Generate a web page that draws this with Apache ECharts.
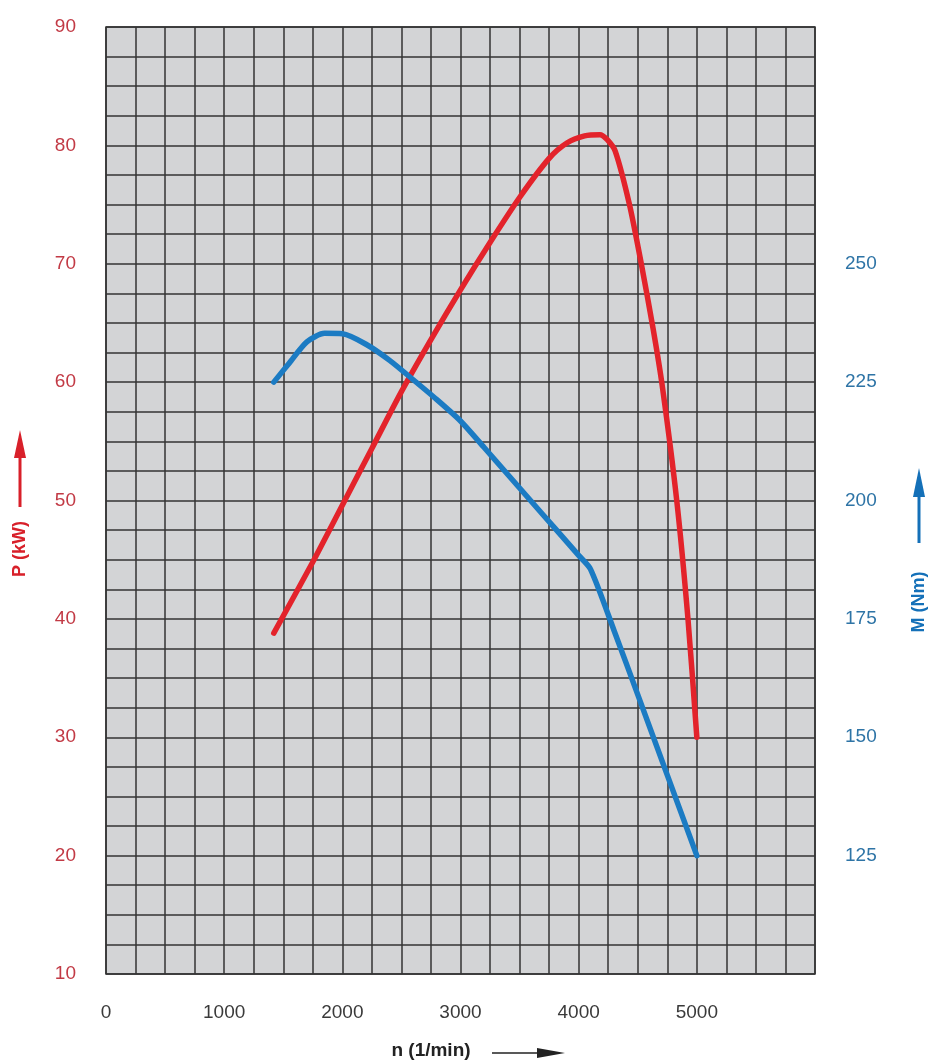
<!DOCTYPE html>
<html>
<head>
<meta charset="utf-8">
<script src="https://cdn.jsdelivr.net/npm/echarts@6/dist/echarts.min.js"></script>
<style>html,body{margin:0;padding:0;background:#fff;}#c{width:936px;height:1064px;}</style>
</head>
<body>
<div id="c"></div>
<script>
// Engine speed n (1/min) and power P (kW)
const powerN = [1420, 1750, 2000, 2250, 2500, 2750, 3000, 3250, 3500, 3750, 3900, 4050, 4180, 4240, 4310, 4430, 4530, 4630, 4710, 4830, 4925, 5000];
const powerP = [38.8, 44.8, 49.6, 54.4, 59.2, 63.6, 67.8, 71.8, 75.6, 78.9, 80.2, 80.8, 80.9, 80.5, 79.5, 75.0, 70.0, 64.5, 59.5, 50.0, 40.0, 30.0];
// Engine speed n (1/min) and torque M (Nm)
const torqueN = [1420, 1550, 1700, 1850, 2000, 2200, 2400, 2600, 2800, 3000, 3200, 3400, 3600, 3800, 4000, 4100, 4300, 4500, 4750, 5000];
const torqueM = [225, 229, 233.5, 235.3, 235.2, 233, 229.6, 225.5, 221.3, 216.8, 211.2, 205.5, 199.8, 194.1, 188.4, 185.5, 172.5, 159, 142, 125];
// Tick labels
const xTickLabels = [0, 1000, 2000, 3000, 4000, 5000];
const pTickLabels = [10, 20, 30, 40, 50, 60, 70, 80, 90];
const mTickLabels = [125, 150, 175, 200, 225, 250];

const FONT = '"Liberation Sans", Arial, sans-serif';
const chart = echarts.init(document.getElementById('c'), null, {renderer: 'canvas'});
chart.setOption({
  animation: false,
  backgroundColor: '#ffffff',
  grid: {left: 106, top: 27, right: 121, bottom: 90, show: true, backgroundColor: '#d3d4d6', borderColor: '#333333', borderWidth: 1.5},
  xAxis: {
    type: 'value', min: 0, max: 6000, interval: 250,
    axisLine: {show: false}, axisTick: {show: false},
    splitLine: {show: true, lineStyle: {color: '#333333', width: 1.5}},
    axisLabel: {margin: 29, fontSize: 19, fontFamily: FONT, color: '#3a3a3a',
      formatter: v => xTickLabels.includes(v) ? String(v) : ''}
  },
  yAxis: [{
    type: 'value', min: 10, max: 90, interval: 2.5,
    axisLine: {show: false}, axisTick: {show: false},
    splitLine: {show: true, lineStyle: {color: '#333333', width: 1.5}},
    axisLabel: {margin: 30, fontSize: 19, fontFamily: FONT, color: '#c23a45',
      formatter: v => pTickLabels.includes(v) ? String(v) : ''}
  }, {
    type: 'value', min: 100, max: 300, interval: 25, position: 'right',
    axisLine: {show: false}, axisTick: {show: false}, splitLine: {show: false},
    axisLabel: {margin: 30, fontSize: 19, fontFamily: FONT, color: '#2e74a6',
      formatter: v => mTickLabels.includes(v) ? String(v) : ''}
  }],
  series: [{
    name: 'P', type: 'line', yAxisIndex: 0, smooth: 0.25, symbol: 'none',
    lineStyle: {color: '#e3232b', width: 5.5, cap: 'round', join: 'round'},
    data: powerN.map((n, i) => [n, powerP[i]])
  }, {
    name: 'M', type: 'line', yAxisIndex: 1, smooth: 0.25, symbol: 'none',
    lineStyle: {color: '#1b7bc3', width: 5.5, cap: 'round', join: 'round'},
    data: torqueN.map((n, i) => [n, torqueM[i]])
  }],
  graphic: [
    // P (kW) axis title with arrow
    {type: 'text', x: 20, y: 549, rotation: Math.PI / 2, style: {text: 'P (kW)', fill: '#d8202a', font: 'bold 18px ' + FONT, align: 'center', verticalAlign: 'middle'}},
    {type: 'line', shape: {x1: 20, y1: 507, x2: 20, y2: 455}, style: {stroke: '#d8202a', lineWidth: 3}},
    {type: 'polygon', shape: {points: [[20, 430], [14, 458], [26, 458]]}, style: {fill: '#d8202a'}},
    // M (Nm) axis title with arrow
    {type: 'text', x: 919, y: 602, rotation: Math.PI / 2, style: {text: 'M (Nm)', fill: '#1470b8', font: 'bold 18px ' + FONT, align: 'center', verticalAlign: 'middle'}},
    {type: 'line', shape: {x1: 919, y1: 543, x2: 919, y2: 494}, style: {stroke: '#1470b8', lineWidth: 3}},
    {type: 'polygon', shape: {points: [[919, 468], [913, 497], [925, 497]]}, style: {fill: '#1470b8'}},
    // n (1/min) axis title with arrow
    {type: 'text', x: 431, y: 1051, style: {text: 'n (1/min)', fill: '#222222', font: 'bold 19px ' + FONT, align: 'center', verticalAlign: 'middle'}},
    {type: 'line', shape: {x1: 492, y1: 1053, x2: 540, y2: 1053}, style: {stroke: '#222222', lineWidth: 1.5}},
    {type: 'polygon', shape: {points: [[565, 1053], [537, 1048], [537, 1058]]}, style: {fill: '#222222'}}
  ]
});
</script>
</body>
</html>
